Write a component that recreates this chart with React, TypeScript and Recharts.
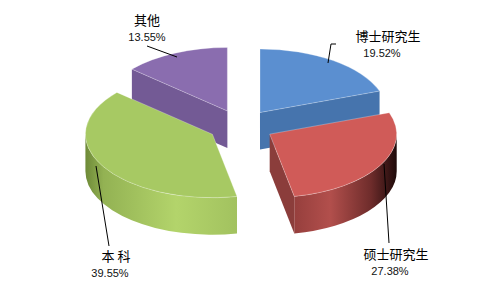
import { PieChart, Pie } from 'recharts';

// degree share per programme
const categories = ['博士研究生', '硕士研究生', '本 科', '其他'];
const shares = [19.52, 27.38, 39.55, 13.55];

const data = categories.map((name, i) => ({ name, value: shares[i] }));

const topColors = ['#5b8fd0', '#d05b58', '#a7c963', '#8a6daf'];
const cutColors = ['#4674ad', '#8b3d3b', '#86a34c', '#735a95'];
const rimFills = ['#4674ad', 'url(#redRim)', 'url(#greenRim)', '#735a95'];

// label text positions + leader lines, same order as categories
const labelLayout = [
  { nameX: 388, nameY: 41, pctX: 382, pctY: 57, line: '328,63 331,44 336,44' },
  { nameX: 396, nameY: 259, pctX: 390, pctY: 275, line: '384,164 389,243' },
  { nameX: 116, nameY: 261, pctX: 110, pctY: 277, line: '96,166 109,246' },
  { nameX: 147, nameY: 25, pctX: 147, pctY: 41, line: '147,46 177,57' },
];

const TILT = 0.5;
const DEPTH = 37;
const EXPLODE = 33;
const RAD = Math.PI / 180;

function geom(p: any) {
  const { cx, cy, outerRadius: rx, startAngle, endAngle } = p;
  const hi = Math.max(startAngle, endAngle);
  const lo = Math.min(startAngle, endAngle);
  const mid = (hi + lo) / 2;
  const ry = rx * TILT;
  const ox = cx + EXPLODE * Math.cos(mid * RAD);
  const oy = cy - EXPLODE * TILT * Math.sin(mid * RAD);
  const pt = (a: number, dy = 0) => `${ox + rx * Math.cos(a * RAD)},${oy - ry * Math.sin(a * RAD) + dy}`;
  return { hi, lo, rx, ry, ox, oy, pt };
}

function renderSides(p: any) {
  const { hi, lo, rx, ry, ox, oy, pt } = geom(p);
  const i = p.index;
  const parts: JSX.Element[] = [];

  // cut faces along the radii that turn toward the viewer
  const cut = (a: number, key: string) => (
    <path
      key={key}
      d={`M${ox},${oy} L${pt(a)} L${pt(a, DEPTH)} L${ox},${oy + DEPTH} Z`}
      fill={cutColors[i]}
    />
  );
  if (Math.cos(hi * RAD) < -0.01) parts.push(cut(hi, 'hi'));
  if (Math.cos(lo * RAD) > 0.01) parts.push(cut(lo, 'lo'));

  // curved outer rim, only the front half shows
  for (let k = -1; k <= 1; k++) {
    const a = Math.max(lo, -180 + 360 * k);
    const b = Math.min(hi, 360 * k);
    if (b - a > 0.1) {
      parts.push(
        <path
          key={`rim${k}`}
          d={`M${pt(b)} A${rx},${ry} 0 0 1 ${pt(a)} L${pt(a, DEPTH)} A${rx},${ry} 0 0 0 ${pt(b, DEPTH)} Z`}
          fill={rimFills[i]}
        />
      );
    }
  }
  return <g>{parts}</g>;
}

function renderTops(p: any) {
  const { hi, lo, rx, ry, ox, oy, pt } = geom(p);
  const i = p.index;
  const lay = labelLayout[i];
  const large = hi - lo > 180 ? 1 : 0;
  return (
    <g>
      <path
        d={`M${ox},${oy} L${pt(hi)} A${rx},${ry} 0 ${large} 1 ${pt(lo)} Z`}
        fill={topColors[i]}
        stroke="rgba(255,255,255,0.35)"
        strokeWidth={0.8}
      />
      <polyline points={lay.line} fill="none" stroke="#000" strokeWidth={1} />
      <text
        x={lay.nameX}
        y={lay.nameY}
        textAnchor="middle"
        fontSize={13}
        fontFamily="'Noto Sans CJK SC', sans-serif"
        fill="#000"
      >
        {p.payload.name}
      </text>
      <text
        x={lay.pctX}
        y={lay.pctY}
        textAnchor="middle"
        fontSize={11}
        fontFamily="'Liberation Sans', Arial, sans-serif"
        fill="#111"
      >
        {`${Number(p.value).toFixed(2)}%`}
      </text>
    </g>
  );
}

export default function App() {
  return (
    <div style={{ width: 480, height: 288, background: '#fff' }}>
      <style>{'body{margin:0}'}</style>
      <PieChart width={480} height={288} margin={{ top: 0, right: 0, bottom: 0, left: 0 }}>
        <defs>
          <linearGradient id="redRim" x1="0" y1="0" x2="1" y2="0">
            <stop offset="0" stopColor="#963f3d" />
            <stop offset="0.35" stopColor="#b24f4c" />
            <stop offset="0.75" stopColor="#6e2c2b" />
            <stop offset="1" stopColor="#1e0a0a" />
          </linearGradient>
          <linearGradient id="greenRim" x1="0" y1="0" x2="1" y2="0">
            <stop offset="0" stopColor="#6e8a38" />
            <stop offset="0.12" stopColor="#93b253" />
            <stop offset="0.6" stopColor="#b3d46b" />
            <stop offset="1" stopColor="#a2c25f" />
          </linearGradient>
        </defs>
        <Pie
          data={data}
          dataKey="value"
          cx={241}
          cy={126}
          outerRadius={127}
          startAngle={90}
          endAngle={-270}
          fill="none"
          stroke="none"
          label={renderSides}
          labelLine={false}
          legendType="none"
          isAnimationActive={false}
        />
        <Pie
          data={data}
          dataKey="value"
          cx={241}
          cy={126}
          outerRadius={127}
          startAngle={90}
          endAngle={-270}
          fill="none"
          stroke="none"
          label={renderTops}
          labelLine={false}
          legendType="none"
          isAnimationActive={false}
        />
      </PieChart>
    </div>
  );
}
